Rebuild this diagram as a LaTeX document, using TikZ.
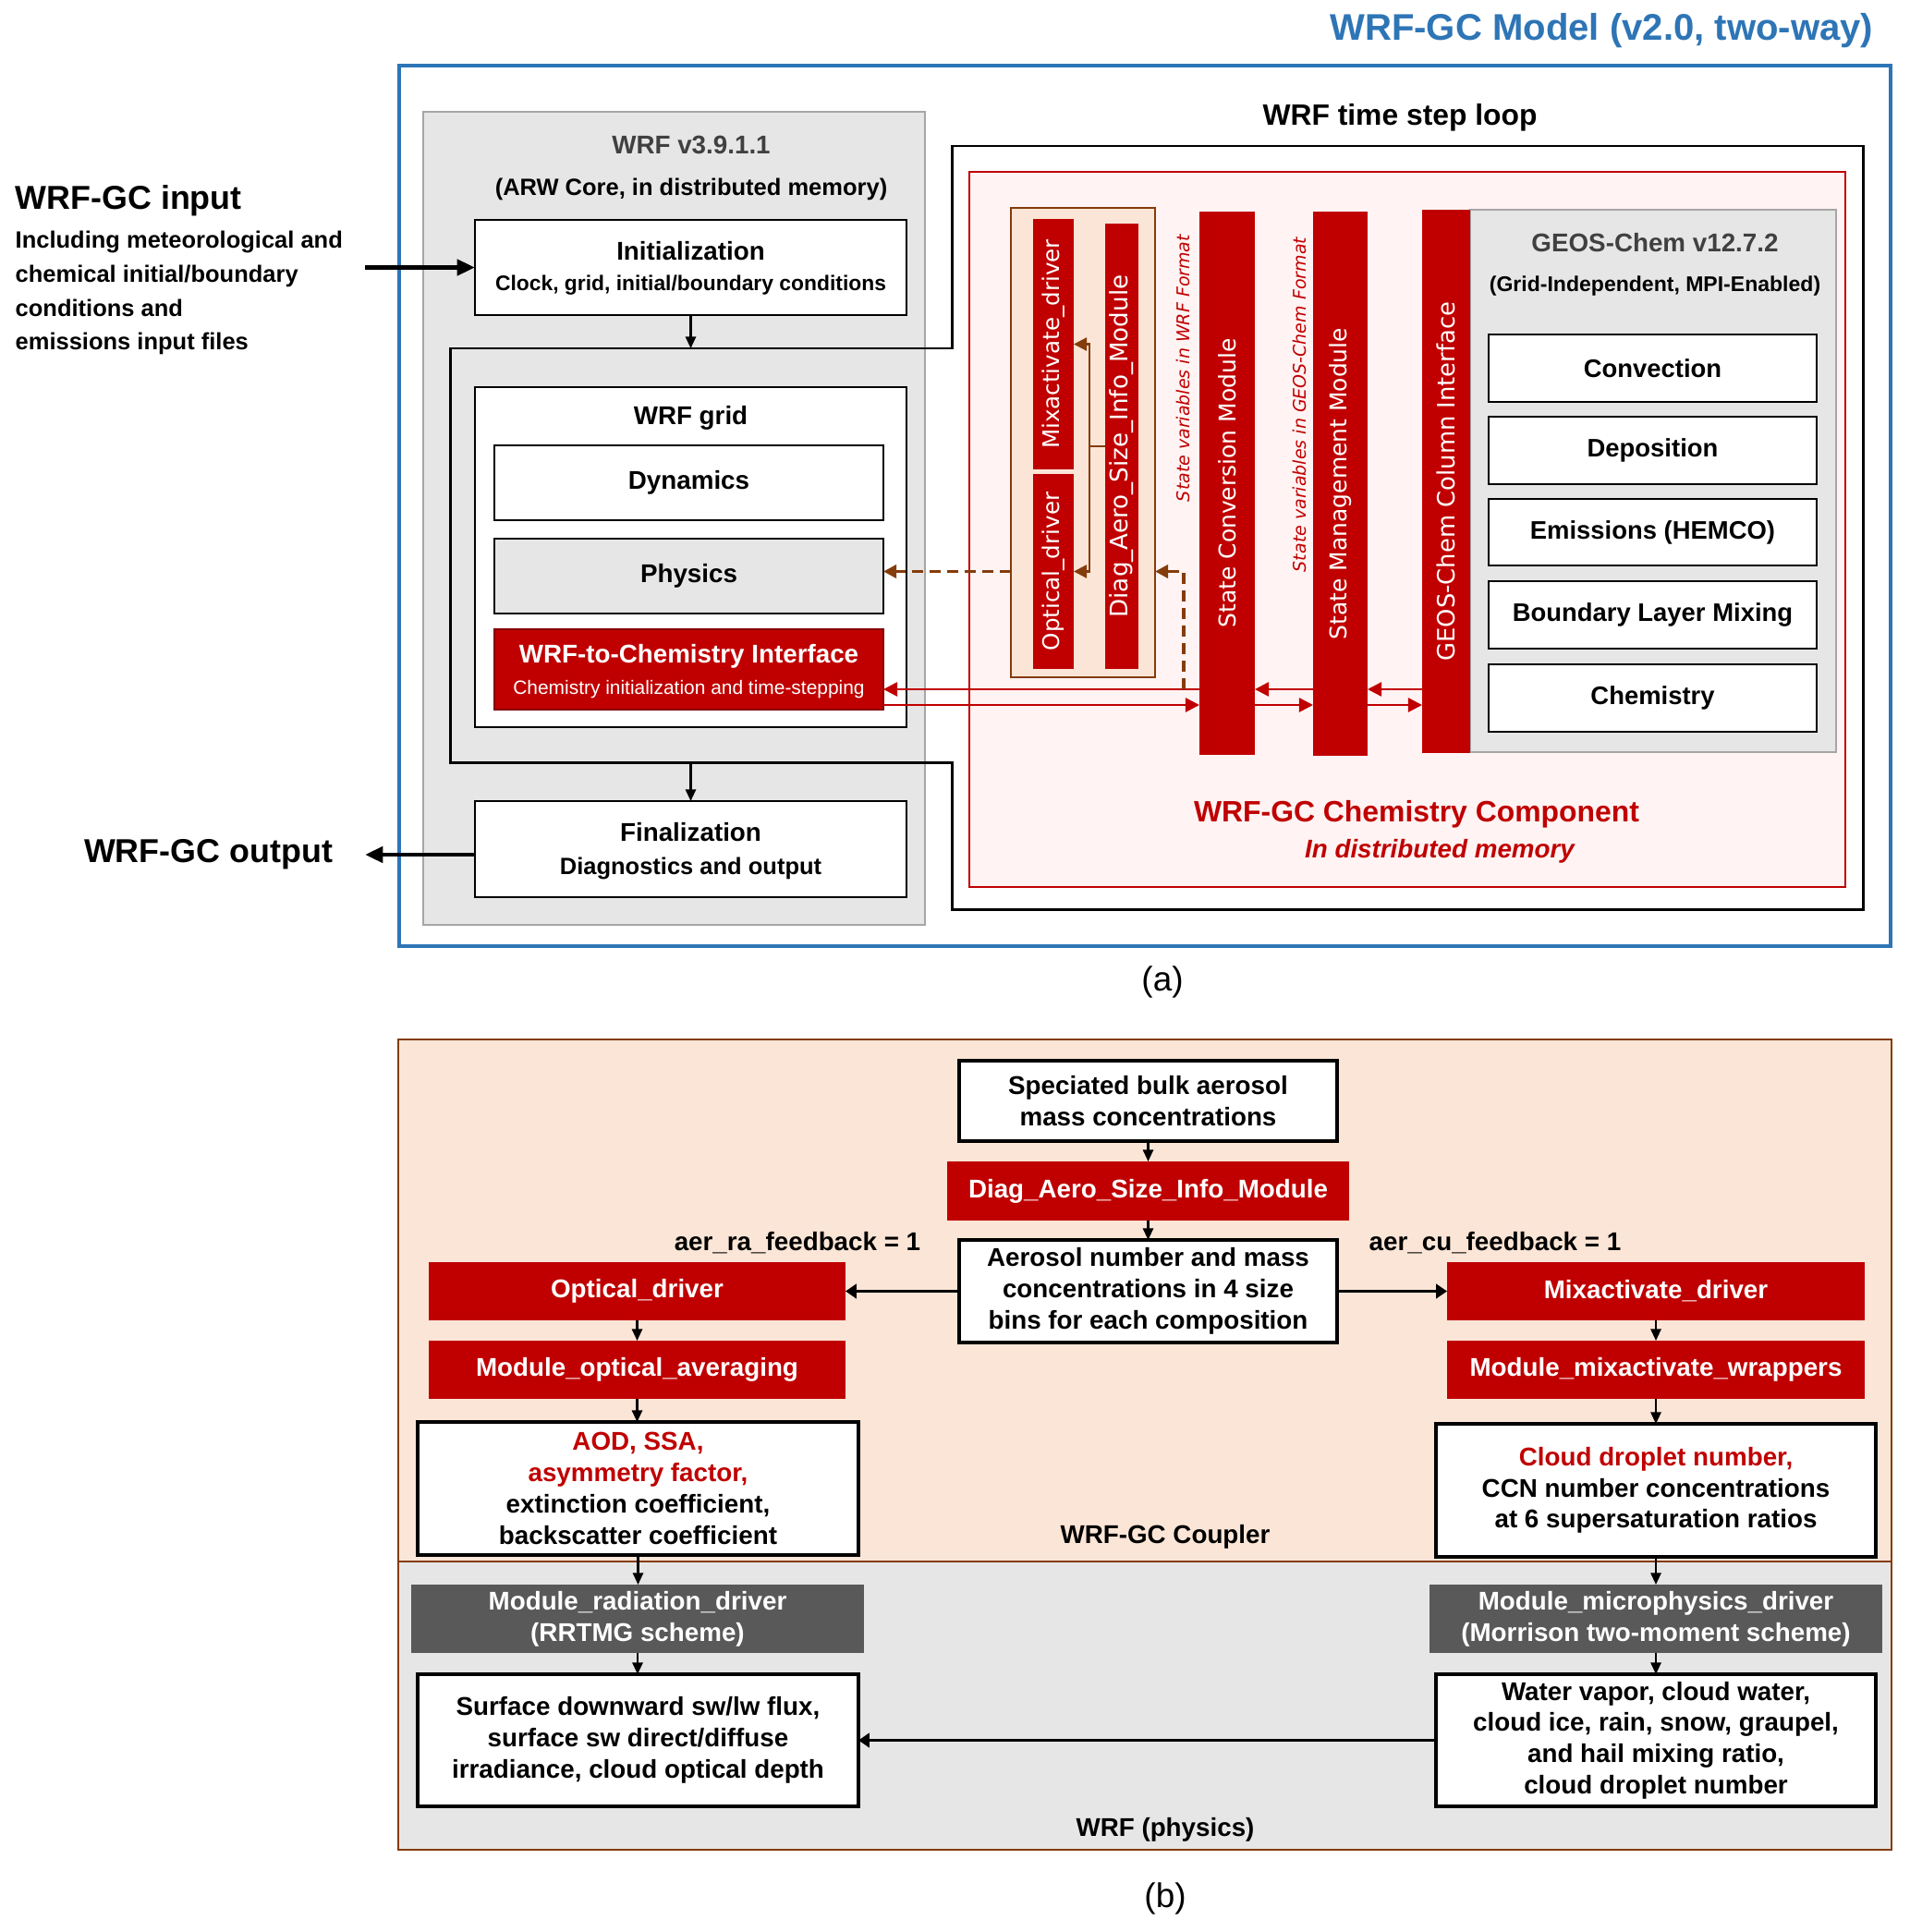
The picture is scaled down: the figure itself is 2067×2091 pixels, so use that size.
\documentclass[tikz,border=0pt]{standalone}
\usepackage{fontspec}
\setmainfont{Liberation Sans}
\newfontfamily\barfont{DejaVu Sans}
\usetikzlibrary{arrows.meta}

\definecolor{wrfred}{HTML}{C00000}
\definecolor{wrfblue}{HTML}{2E75B6}
\definecolor{boxgray}{HTML}{E6E6E6}
\definecolor{edgegray}{HTML}{A6A6A6}
\definecolor{labelgray}{HTML}{404040}
\definecolor{pinkfill}{HTML}{FFF3F3}
\definecolor{peach}{HTML}{FBE5D6}
\definecolor{brownline}{HTML}{843C0C}
\definecolor{darkbox}{HTML}{595959}

\newcommand{\fsz}[2]{\fontsize{#1pt}{#2pt}\selectfont}

\begin{document}
\begin{tikzpicture}[x=0.01cm,y=-0.01cm,>={Triangle[length=4.3pt,width=4.3pt]},
  box at/.style n args={4}{at={({(#1+#3)/2},{(#2+#4)/2})},
    minimum width={(#3-#1)*0.01cm},minimum height={(#4-#2)*0.01cm}},
  boxbase/.style={inner sep=0pt,outer sep=0pt},
  white box/.style={boxbase,draw,fill=white,line width=0.65pt},
  gray box/.style={boxbase,draw=edgegray,fill=boxgray,line width=0.7pt},
  red bar/.style={boxbase,fill=wrfred},
  bar text/.style={rotate=90,text=white,font=\barfont\fsz{7}{8}},
  state note/.style={rotate=90,text=wrfred,font=\barfont\itshape\fsz{5.4}{6.5}},
  title text/.style={font=\bfseries\fsz{7.9}{9.6}},
  sub text/.style={font=\bfseries\fsz{7.25}{8.7}},
  proc box/.style={boxbase,draw,fill=white,line width=0.8pt,font=\bfseries\fsz{7.8}{9.4}},
  result box/.style={boxbase,draw,fill=white,line width=1.1pt,align=center,font=\bfseries\fsz{7.9}{9.6}},
  red box/.style={boxbase,fill=wrfred,text=white,align=center,font=\bfseries\fsz{7.9}{9.6}},
  dark box/.style={boxbase,fill=darkbox,text=white,align=center,font=\bfseries\fsz{7.9}{9.6}},
  thin arrow/.style={->,line width=0.6pt,>={Triangle[length=3.6pt,width=3.2pt]}},
  thick arrow/.style={->,line width=1.1pt,>={Triangle[length=3.4pt,width=4.4pt]}},
  io arrow/.style={->,line width=1.4pt,>={Triangle[length=5.5pt,width=4.8pt]}},
  red link/.style={->,draw=wrfred,line width=0.75pt},
  brown link/.style={draw=brownline,line width=0.7pt,>={Triangle[length=4pt,width=4pt]}},
  feedback/.style={->,draw=brownline,line width=1pt,dash pattern=on 3.4pt off 2pt,
    >={Triangle[length=4pt,width=4pt]}}]

  \fill[white] (0,0) rectangle (2067,2091);
  \useasboundingbox (0,0) rectangle (2067,2091);

  % (a) WRF-GC model
  \node[font=\bfseries\fsz{11.4}{13},text=wrfblue,anchor=east,inner sep=0pt] (modeltitle) at (2028,33) {WRF-GC Model (v2.0, two-way)};
  \node[boxbase,draw=wrfblue,line width=1.2pt,box at={432}{71}{2046}{1024}] (modelframe) {};

  \node[font=\bfseries\fsz{10.2}{12},anchor=west,inner sep=0pt] (inhead) at (16,217) {WRF-GC input};
  \node[font=\bfseries\fsz{7.25}{10.5},align=left,anchor=west,inner sep=0pt] (intext) at (16,317)
    {Including meteorological and\\chemical initial/boundary\\conditions and\\emissions input files};
  \node[font=\bfseries\fsz{10.2}{12}] (outhead) at (225.5,925) {WRF-GC output};

  \node[gray box,box at={458}{121}{1001}{1001}] (wrfbox) {};
  \node[title text,text=labelgray] (wrfver) at (748,157) {WRF v3.9.1.1};
  \node[sub text] (wrfcore) at (748,205) {(ARW Core, in distributed memory)};

  \node[white box,box at={514}{238}{981}{341}] (init) {};
  \node[title text] (inittitle) at (747.5,272) {Initialization};
  \node[font=\bfseries\fsz{6.5}{7.8}] (initsub) at (747.5,309) {Clock, grid, initial/boundary conditions};

  \draw[line width=0.85pt] (487,377) -- (1030,377) -- (1030,158) -- (2016,158) -- (2016,984)
    -- (1030,984) -- (1030,825) -- (487,825) -- cycle;
  \node[font=\bfseries\fsz{9.05}{11}] (looptitle) at (1515,127) {WRF time step loop};

  \node[white box,box at={514}{419}{981}{787}] (wrfgrid) {};
  \node[title text] (gridtitle) at (747.5,452) {WRF grid};
  \node[white box,title text,box at={535}{482}{956}{563}] (dynamics) {Dynamics};
  \node[white box,fill=boxgray,title text,box at={535}{583}{956}{664}] (physics) {Physics};
  \node[boxbase,fill=wrfred,draw=wrfred!70!black,line width=0.6pt,box at={535}{681}{956}{768}] (w2c) {};
  \node[title text,text=white] (w2ctitle) at (745.5,710) {WRF-to-Chemistry Interface};
  \node[font=\fsz{5.95}{7},text=white] (w2csub) at (745.5,746) {Chemistry initialization and time-stepping};

  \node[white box,box at={514}{867}{981}{971}] (final) {};
  \node[title text] (finaltitle) at (747.5,901) {Finalization};
  \node[sub text] (finalsub) at (747.5,940) {Diagnostics and output};

  \node[boxbase,draw=wrfred,fill=pinkfill,line width=0.6pt,box at={1049}{186}{1997}{960}] (chembox) {};
  \node[boxbase,draw=brownline,fill=peach,line width=0.6pt,box at={1094}{225}{1250}{733}] (aerobox) {};
  \node[red bar,box at={1118}{237}{1162}{508}] (mixbar) {};
  \node[red bar,box at={1118}{513}{1162}{724}] (optbar) {};
  \node[red bar,box at={1196}{242}{1232}{724}] (diagbar) {};
  \node[bar text] (mixlabel) at (mixbar.center) {Mixactivate\_driver};
  \node[bar text] (optlabel) at (optbar.center) {Optical\_driver};
  \node[bar text,font=\barfont\fsz{7.45}{8.4}] (diaglabel) at (diagbar.center) {Diag\_Aero\_Size\_Info\_Module};

  \node[state note] (wrfnote) at (1280,398.5) {State variables in WRF Format};
  \node[state note] (gcnote) at (1406,438) {State variables in GEOS-Chem Format};

  \node[red bar,box at={1298}{229}{1358}{817}] (convbar) {};
  \node[red bar,box at={1421}{229}{1480}{818}] (mgmtbar) {};
  \node[gray box,box at={1591}{227}{1987}{814}] (gcbox) {};
  \node[red bar,box at={1539}{227}{1591}{815}] (colbar) {};
  \node[bar text,font=\barfont\fsz{7.1}{8}] (convlabel) at (convbar.center) {State Conversion Module};
  \node[bar text,font=\barfont\fsz{7.1}{8}] (mgmtlabel) at (mgmtbar.center) {State Management Module};
  \node[bar text,font=\barfont\fsz{7.35}{8.3}] (collabel) at (colbar.center) {GEOS-Chem Column Interface};

  \node[title text,text=labelgray] (gcver) at (1791,263) {GEOS-Chem v12.7.2};
  \node[font=\bfseries\fsz{6.55}{7.8}] (gcgrid) at (1791,310) {(Grid-Independent, MPI-Enabled)};
  \node[proc box,box at={1611}{362}{1966}{435}] (convection) {Convection};
  \node[proc box,box at={1611}{451}{1966}{524}] (deposition) {Deposition};
  \node[proc box,box at={1611}{540}{1966}{612}] (emissions) {Emissions (HEMCO)};
  \node[proc box,box at={1611}{629}{1966}{702}] (pblmix) {Boundary Layer Mixing};
  \node[proc box,box at={1611}{719}{1966}{792}] (chemistry) {Chemistry};

  \node[font=\bfseries\fsz{9.07}{11},text=wrfred] (chemtitle) at (1533,881.5) {WRF-GC Chemistry Component};
  \node[font=\bfseries\itshape\fsz{7.9}{9.6},text=wrfred] (chemsub) at (1558,921) {In distributed memory};
  \node[font=\fsz{10.5}{12}] (parta) at (1258,1063) {(a)};

  \coordinate (inlet) at (395,289.5);
  \coordinate (outlet) at (395,925);
  \coordinate (looptop) at (747.5,377);
  \coordinate (loopbot) at (747.5,825);
  \coordinate (upper) at (0,746);
  \coordinate (lower) at (0,763);
  \coordinate (tap) at (1281,746);

  \draw[io arrow] (inlet) -- (init.west);
  \draw[io arrow] (final.west |- outlet) -- (outlet);
  \draw[thin arrow] (init.south) -- (looptop);
  \draw[thin arrow] (loopbot) -- (final.north);

  \draw[red link] (convbar.west |- upper) -- (w2c.east |- upper);
  \draw[red link] (w2c.east |- lower) -- (convbar.west |- lower);
  \draw[red link] (mgmtbar.west |- upper) -- (convbar.east |- upper);
  \draw[red link] (convbar.east |- lower) -- (mgmtbar.west |- lower);
  \draw[red link] (colbar.west |- upper) -- (mgmtbar.east |- upper);
  \draw[red link] (mgmtbar.east |- lower) -- (colbar.west |- lower);

  \draw[brown link,<->] (mixbar.east) -- ++(17,0) |- (optbar.east);
  \draw[brown link] (diagbar.west) -- ++(-17,0);
  \draw[feedback] (aerobox.west |- optbar.east) -- (physics.east |- optbar.east);
  \draw[feedback] (tap) |- (aerobox.east |- optbar.east);

  % (b) WRF-GC coupler
  \node[boxbase,draw=brownline,fill=peach,line width=0.6pt,box at={431}{1125}{2047}{1690}] (couplerbg) {};
  \node[boxbase,draw=brownline,fill=boxgray,line width=0.6pt,box at={431}{1690}{2047}{2002}] (physbg) {};

  \node[result box,box at={1038}{1148}{1447}{1235}] (speciated) {Speciated bulk aerosol\\mass concentrations};
  \node[red box,box at={1025}{1257}{1460}{1321}] (diagmod) {Diag\_Aero\_Size\_Info\_Module};
  \node[result box,box at={1038}{1342}{1447}{1453}] (aernum) {Aerosol number and mass\\concentrations in 4 size\\bins for each composition};
  \node[title text] (raflag) at (863,1345) {aer\_ra\_feedback = 1};
  \node[title text] (cuflag) at (1618,1345) {aer\_cu\_feedback = 1};

  \node[red box,box at={464}{1366}{915}{1429}] (optdrv) {Optical\_driver};
  \node[red box,box at={464}{1451}{915}{1514}] (optavg) {Module\_optical\_averaging};
  \node[result box,box at={452}{1539}{929}{1683}] (aodbox) {\textcolor{wrfred}{AOD, SSA,}\\\textcolor{wrfred}{asymmetry factor,}\\extinction coefficient,\\backscatter coefficient};
  \node[red box,box at={1566}{1366}{2018}{1429}] (mixdrv) {Mixactivate\_driver};
  \node[red box,box at={1566}{1451}{2018}{1514}] (mixwrap) {Module\_mixactivate\_wrappers};
  \node[result box,box at={1554}{1541}{2030}{1685}] (ccnbox) {\textcolor{wrfred}{Cloud droplet number,}\\CCN number concentrations\\at 6 supersaturation ratios};
  \node[title text] (couplerlabel) at (1261,1663) {WRF-GC Coupler};

  \node[dark box,box at={445}{1715}{935}{1789}] (raddrv) {Module\_radiation\_driver\\(RRTMG scheme)};
  \node[dark box,box at={1547}{1715}{2037}{1789}] (micdrv) {Module\_microphysics\_driver\\(Morrison two-moment scheme)};
  \node[result box,box at={452}{1812}{929}{1955}] (sfcbox) {Surface downward sw/lw flux,\\surface sw direct/diffuse\\irradiance, cloud optical depth};
  \node[result box,box at={1554}{1812}{2030}{1955}] (hydrobox) {Water vapor, cloud water,\\cloud ice, rain, snow, graupel,\\and hail mixing ratio,\\cloud droplet number};
  \node[title text] (physlabel) at (1261,1980) {WRF (physics)};
  \node[font=\fsz{10.5}{12}] (partb) at (1261,2055) {(b)};

  \draw[thin arrow] (speciated.south) -- (diagmod.north);
  \draw[thin arrow] (diagmod.south) -- (aernum.north);
  \draw[thick arrow] (aernum.west) -- (optdrv.east);
  \draw[thick arrow] (aernum.east) -- (mixdrv.west);
  \draw[thin arrow] (optdrv.south) -- (optavg.north);
  \draw[thin arrow] (optavg.south) -- (optavg.south |- aodbox.north);
  \draw[thin arrow] (aodbox.south) -- (aodbox.south |- raddrv.north);
  \draw[thin arrow] (raddrv.south) -- (raddrv.south |- sfcbox.north);
  \draw[thin arrow] (mixdrv.south) -- (mixwrap.north);
  \draw[thin arrow] (mixwrap.south) -- (mixwrap.south |- ccnbox.north);
  \draw[thin arrow] (ccnbox.south) -- (ccnbox.south |- micdrv.north);
  \draw[thin arrow] (micdrv.south) -- (micdrv.south |- hydrobox.north);
  \draw[thick arrow] (hydrobox.west) -- (sfcbox.east);
\end{tikzpicture}
\end{document}
